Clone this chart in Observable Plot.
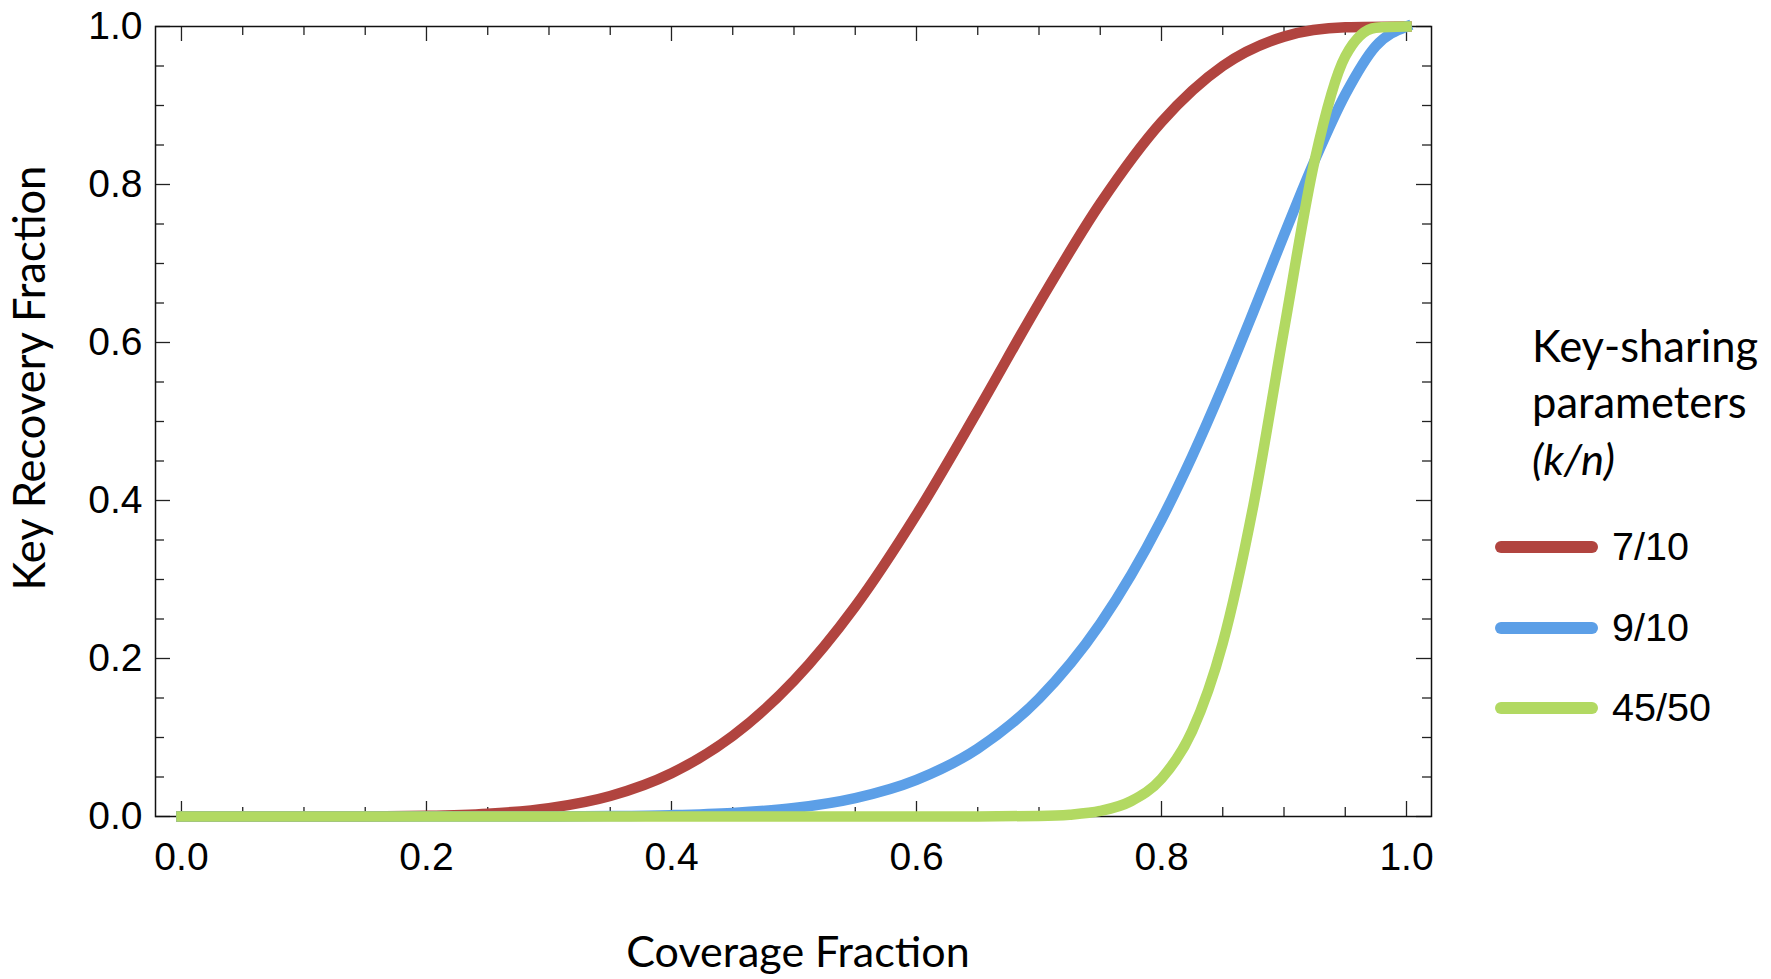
<!DOCTYPE html>
<html>
<head>
<meta charset="utf-8">
<script src="https://cdn.jsdelivr.net/npm/d3@7"></script>
<script src="https://cdn.jsdelivr.net/npm/@observablehq/plot@0.6"></script>
<style>
  html, body { margin: 0; padding: 0; background: #fff; }
  #chart { position: relative; width: 1771px; height: 979px; }
</style>
</head>
<body>
<div id="chart"></div>
<script>
// ---- Data ----
const seriesNames = ["7/10", "9/10", "45/50"];
const seriesColors = ["#b1443f", "#5c9fe7", "#b2d962"];

const xRed   = [0, 0.05, 0.1, 0.15, 0.2, 0.25, 0.3, 0.35, 0.4, 0.45, 0.5, 0.55, 0.6, 0.65, 0.7, 0.75, 0.8, 0.85, 0.9, 0.95, 1.0];
const yRed   = [0, 0.0000, 0.00001, 0.00013, 0.00086, 0.0035, 0.0106, 0.0260, 0.0548, 0.1020, 0.1719, 0.2660, 0.3823, 0.5138, 0.6496, 0.7759, 0.8791, 0.9500, 0.9872, 0.9990, 1.0];

const xBlue  = [0, 0.1, 0.2, 0.3, 0.35, 0.4, 0.45, 0.5, 0.55, 0.6, 0.65, 0.7, 0.75, 0.8, 0.825, 0.85, 0.875, 0.9, 0.925, 0.95, 0.975, 1.0];
const yBlue  = [0, 0, 0.00001, 0.00014, 0.00054, 0.0017, 0.0045, 0.0107, 0.0233, 0.0464, 0.0860, 0.1493, 0.2440, 0.3758, 0.4559, 0.5443, 0.6389, 0.7361, 0.8304, 0.9139, 0.9754, 1.0];

const xGreen = [0, 0.2, 0.4, 0.6, 0.65, 0.7, 0.725, 0.75, 0.775, 0.8, 0.825, 0.85, 0.875, 0.9, 0.925, 0.95, 0.975, 1.0];
const yGreen = [0, 0, 0, 0.00001, 0.00005, 0.0007, 0.0023, 0.0070, 0.0193, 0.0480, 0.1082, 0.2195, 0.3938, 0.6161, 0.8303, 0.9622, 0.9985, 1.0];

const xMajorTicks = [0, 0.2, 0.4, 0.6, 0.8, 1.0];
const xMinorTicks = [0.05, 0.1, 0.15, 0.25, 0.3, 0.35, 0.45, 0.5, 0.55, 0.65, 0.7, 0.75, 0.85, 0.9, 0.95];
const yMajorTicks = [0, 0.2, 0.4, 0.6, 0.8, 1.0];
const yMinorTicks = [0.05, 0.1, 0.15, 0.25, 0.3, 0.35, 0.45, 0.5, 0.55, 0.65, 0.7, 0.75, 0.85, 0.9, 0.95];

const xTitle = "Coverage Fraction";
const yTitle = "Key Recovery Fraction";
const legendTitle = ["Key-sharing", "parameters", "(k/n)"];

// ---- Build table ----
const rows = [];
[[xRed, yRed], [xBlue, yBlue], [xGreen, yGreen]].forEach(([xs, ys], i) => {
  xs.forEach((x, j) => rows.push({series: seriesNames[i], x, y: ys[j]}));
});

// ---- Layout ----
const W = 1771, H = 979;
const mL = 155, mR = 340, mT = 26, mB = 163;
const innerW = W - mL - mR, innerH = H - mT - mB;
const majorLen = 15, minorLen = 9;

const tickStyle = {stroke: "#222", strokeWidth: 1.3};

const chart = Plot.plot({
  width: W, height: H,
  marginLeft: mL, marginRight: mR, marginTop: mT, marginBottom: mB,
  x: {domain: [-0.0212, 1.0204]},
  y: {domain: [0, 1]},
  color: {domain: seriesNames, range: seriesColors},
  style: {fontFamily: "'Liberation Sans', Arial, sans-serif", fontSize: "38px", color: "#000", background: "#fff", overflow: "visible"},
  marks: [
    // ticks inside the frame, on all four sides
    Plot.tickX(xMajorTicks, {x: d => d, insetTop: innerH - majorLen, ...tickStyle}),
    Plot.tickX(xMinorTicks, {x: d => d, insetTop: innerH - minorLen, ...tickStyle}),
    Plot.tickX(xMajorTicks, {x: d => d, insetBottom: innerH - majorLen, ...tickStyle}),
    Plot.tickX(xMinorTicks, {x: d => d, insetBottom: innerH - minorLen, ...tickStyle}),
    Plot.tickY(yMajorTicks, {y: d => d, insetRight: innerW - majorLen, ...tickStyle}),
    Plot.tickY(yMinorTicks, {y: d => d, insetRight: innerW - minorLen, ...tickStyle}),
    Plot.tickY(yMajorTicks, {y: d => d, insetLeft: innerW - majorLen, ...tickStyle}),
    Plot.tickY(yMinorTicks, {y: d => d, insetLeft: innerW - minorLen, ...tickStyle}),
    Plot.frame({stroke: "#111", strokeWidth: 1.5}),
    Plot.axisX({ticks: xMajorTicks, tickSize: 0, tickPadding: 26, tickFormat: d3.format(".1f"), label: null, fontSize: 39}),
    Plot.axisY({ticks: yMajorTicks, tickSize: 0, tickPadding: 13, tickFormat: d3.format(".1f"), label: null, fontSize: 39}),
    Plot.line(rows, {x: "x", y: "y", z: "series", stroke: "series", strokeWidth: 10.5,
      strokeLinecap: "square", strokeLinejoin: "round", curve: "monotone-x"})
  ]
});

document.getElementById("chart").appendChild(chart);

// ---- Axis titles and legend ----
const svg = d3.select(chart);
const titleFont = "Lato, 'Open Sans', sans-serif";

svg.append("text")
  .attr("x", mL + innerW / 2 + 5).attr("y", 967)
  .attr("text-anchor", "middle")
  .attr("font-family", titleFont).attr("font-size", 43).attr("fill", "#000")
  .text(xTitle);

svg.append("text")
  .attr("transform", `translate(45, 378) rotate(-90)`)
  .attr("text-anchor", "middle")
  .attr("font-family", titleFont).attr("font-size", 43.5).attr("fill", "#000")
  .text(yTitle);

const lg = svg.append("g").attr("text-anchor", "start");
const titleBaselines = [362, 418, 475];
legendTitle.forEach((t, i) => {
  lg.append("text")
    .attr("x", 1532).attr("y", titleBaselines[i])
    .attr("text-anchor", "start")
    .attr("font-family", titleFont).attr("font-size", 43.5).attr("fill", "#000")
    .attr("font-style", i === 2 ? "italic" : "normal")
    .text(t);
});
const itemY = [547, 628, 708];
seriesNames.forEach((name, i) => {
  lg.append("line")
    .attr("x1", 1501).attr("x2", 1592).attr("y1", itemY[i]).attr("y2", itemY[i])
    .attr("stroke", seriesColors[i]).attr("stroke-width", 12).attr("stroke-linecap", "round");
  lg.append("text")
    .attr("x", 1612).attr("y", itemY[i] + 13)
    .attr("text-anchor", "start")
    .attr("font-family", "'Liberation Sans', Arial, sans-serif").attr("font-size", 39.5).attr("fill", "#000")
    .text(name);
});
</script>
</body>
</html>
